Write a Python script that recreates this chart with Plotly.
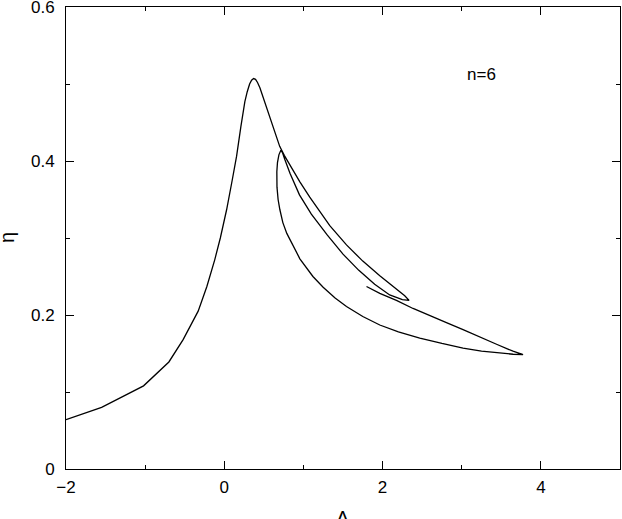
import plotly.graph_objects as go

# curve for n=6, traced in order: left rise, peak, upper branch to small tip,
# back to loop top, down the loop, lower branch to big tip, return branch
lam = [
    -2.0, -1.55, -1.02, -0.70, -0.52, -0.33, -0.22, -0.12, -0.05, 0.03,
    0.10, 0.155, 0.21, 0.26, 0.29, 0.32, 0.345, 0.37, 0.395, 0.42,
    0.45, 0.48, 0.52, 0.576, 0.64, 0.70, 0.76, 0.85, 0.955, 1.08,
    1.207, 1.333, 1.544, 1.75, 1.965, 2.175, 2.28, 2.335, 2.25, 2.09,
    1.90, 1.70, 1.50, 1.30, 1.10, 0.95, 0.83, 0.765, 0.735, 0.715,
    0.69, 0.672, 0.664, 0.666, 0.68, 0.702, 0.74, 0.79, 0.87, 0.955,
    1.12, 1.249, 1.40, 1.544, 1.75, 1.965, 2.2, 2.47, 2.75, 3.017,
    3.25, 3.44, 3.65, 3.775, 3.648, 3.44, 3.227, 3.017, 2.807, 2.6,
    2.385, 2.175, 1.965, 1.797,
]
eta = [
    0.064, 0.080, 0.108, 0.139, 0.168, 0.205, 0.237, 0.272, 0.300, 0.337,
    0.375, 0.406, 0.445, 0.477, 0.490, 0.500, 0.505, 0.507, 0.506, 0.502,
    0.495, 0.486, 0.473, 0.456, 0.437, 0.419, 0.407, 0.391, 0.373, 0.353,
    0.334, 0.316, 0.291, 0.270, 0.251, 0.234, 0.225, 0.219, 0.220, 0.226,
    0.240, 0.258, 0.279, 0.304, 0.331, 0.356, 0.384, 0.402, 0.411, 0.414,
    0.408, 0.398, 0.386, 0.366, 0.350, 0.337, 0.320, 0.306, 0.289, 0.273,
    0.250, 0.236, 0.222, 0.211, 0.198, 0.187, 0.178, 0.170, 0.163, 0.157,
    0.153, 0.151, 0.149, 0.1486, 0.153, 0.162, 0.172, 0.181, 0.190, 0.199,
    0.2085, 0.219, 0.228, 0.237,
]

x_ticks = [-2, 0, 2, 4]
y_ticks = [0, 0.2, 0.4, 0.6]
y_labels = ["0", "0.2", "0.4", "0.6"]

font = "Liberation Sans, Arial, sans-serif"
black = "black"

fig = go.Figure()
fig.add_trace(
    go.Scatter(
        x=lam,
        y=eta,
        mode="lines",
        line=dict(color=black, width=1.3),
        showlegend=False,
    )
)

fig.add_annotation(
    x=3.25, y=0.512, text="n=6", showarrow=False,
    font=dict(family=font, size=17, color=black),
)
# axis titles as annotations so they can sit right at the page edges
fig.add_annotation(
    xref="x", yref="paper", x=1.5, y=0, yanchor="top", yshift=-36,
    text="Λ", showarrow=False, font=dict(family=font, size=20, color=black),
)
fig.add_annotation(
    xref="paper", yref="y", x=0, y=0.3, xanchor="center", xshift=-59,
    text="η", textangle=-90, showarrow=False,
    font=dict(family=font, size=20, color=black),
)

axis_common = dict(
    showline=True,
    linecolor=black,
    linewidth=1,
    mirror="allticks",
    ticks="inside",
    ticklen=8,
    tickcolor=black,
    showgrid=False,
    zeroline=False,
    automargin=False,
    ticklabeloverflow="allow",
    tickfont=dict(family=font, size=17, color=black),
)

fig.update_xaxes(
    range=[-2, 5],
    tickvals=x_ticks,
    ticklabelstandoff=3,
    minor=dict(ticks="inside", ticklen=4, dtick=1, tickcolor=black, showgrid=False),
    **axis_common,
)
fig.update_yaxes(
    range=[0, 0.6],
    tickvals=y_ticks,
    ticktext=y_labels,
    ticklabelstandoff=7,
    minor=dict(ticks="inside", ticklen=4, dtick=0.1, tickcolor=black, showgrid=False),
    **axis_common,
)

fig.update_layout(
    width=622,
    height=519,
    margin=dict(l=66, r=2, t=7, b=49.5),
    plot_bgcolor="white",
    paper_bgcolor="white",
)

# drop the default 8px body margin so the figure fills the window exactly
fig.write_html(
    "out.html",
    config={"displayModeBar": False},
    post_script="document.body.style.margin='0';",
)
